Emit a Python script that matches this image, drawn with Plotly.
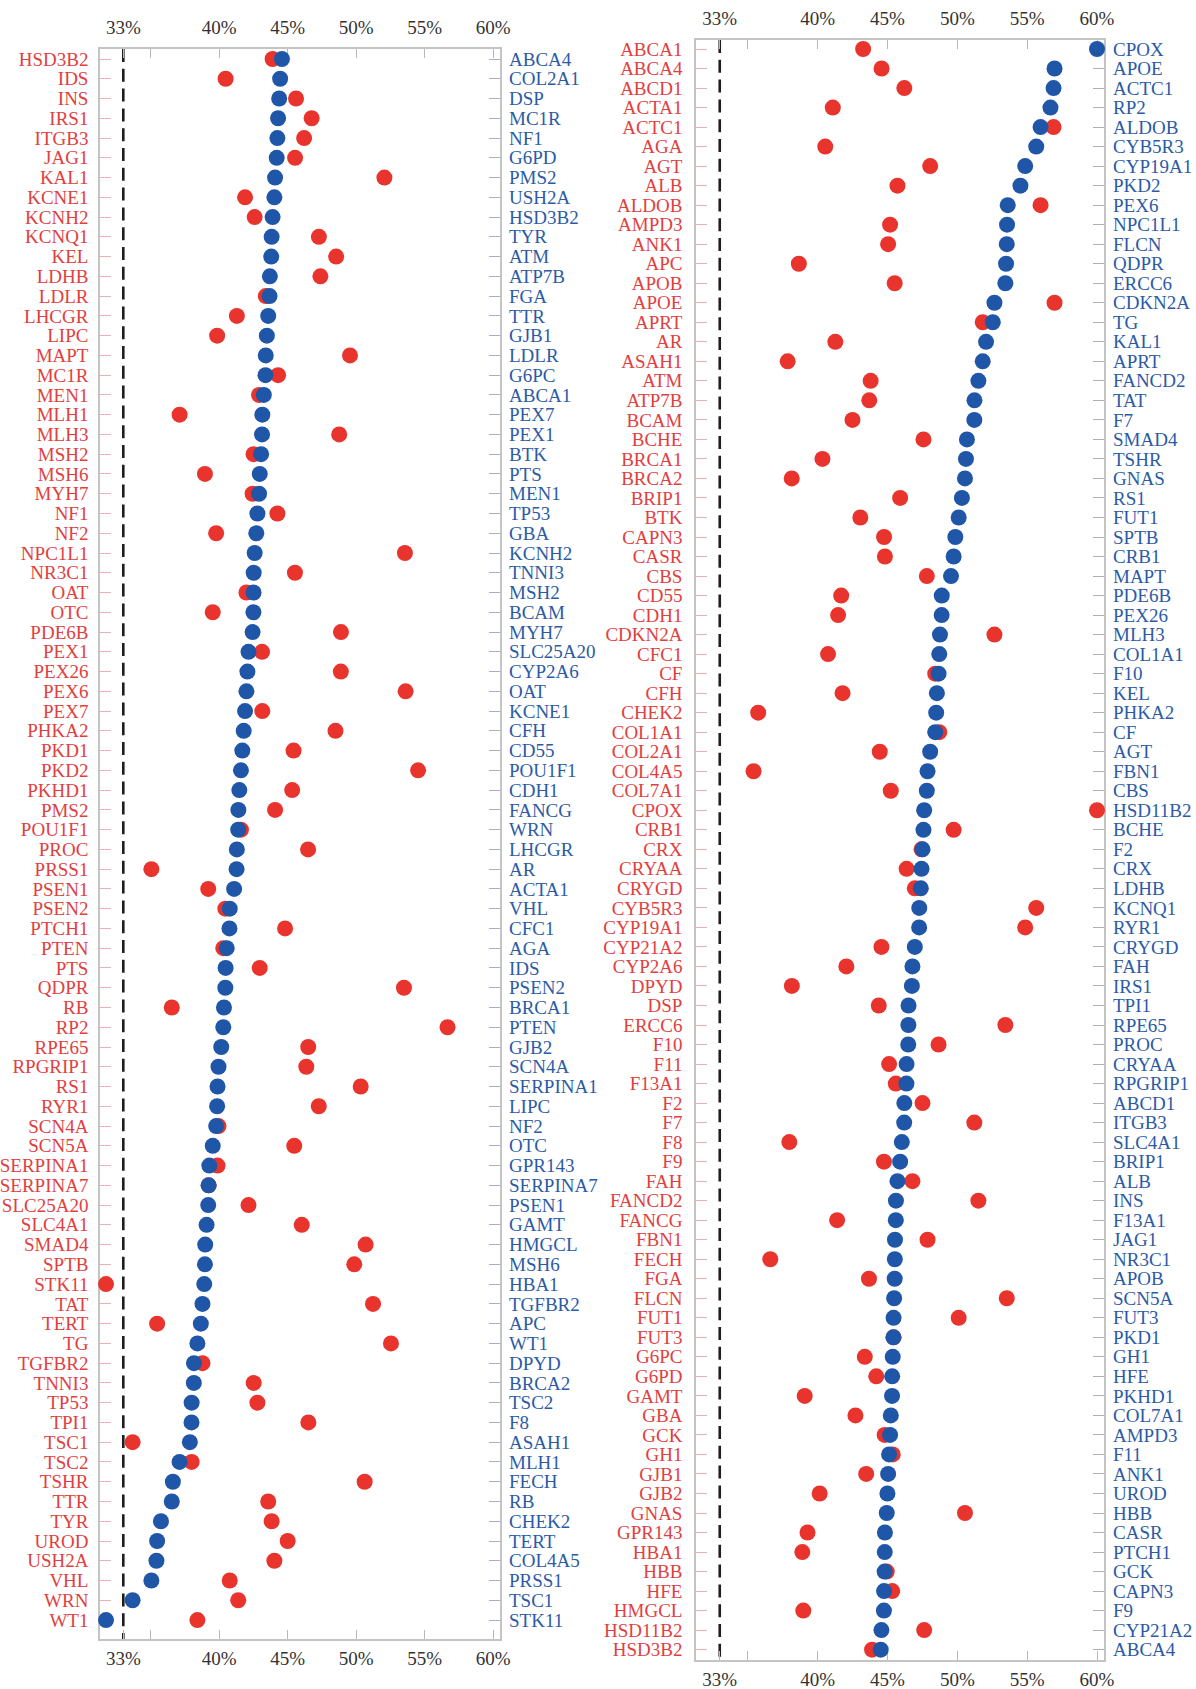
import plotly.graph_objects as go

# ---- data -----------------------------------------------------------------
# Genes ranked by score (blue, right-hand labels) for each panel
left_ranked_genes = [
    "ABCA4", "COL2A1", "DSP", "MC1R", "NF1", "G6PD", "PMS2", "USH2A", "HSD3B2", "TYR",
    "ATM", "ATP7B", "FGA", "TTR", "GJB1", "LDLR", "G6PC", "ABCA1", "PEX7", "PEX1",
    "BTK", "PTS", "MEN1", "TP53", "GBA", "KCNH2", "TNNI3", "MSH2", "BCAM", "MYH7",
    "SLC25A20", "CYP2A6", "OAT", "KCNE1", "CFH", "CD55", "POU1F1", "CDH1", "FANCG", "WRN",
    "LHCGR", "AR", "ACTA1", "VHL", "CFC1", "AGA", "IDS", "PSEN2", "BRCA1", "PTEN",
    "GJB2", "SCN4A", "SERPINA1", "LIPC", "NF2", "OTC", "GPR143", "SERPINA7", "PSEN1", "GAMT",
    "HMGCL", "MSH6", "HBA1", "TGFBR2", "APC", "WT1", "DPYD", "BRCA2", "TSC2", "F8",
    "ASAH1", "MLH1", "FECH", "RB", "CHEK2", "TERT", "COL4A5", "PRSS1", "TSC1", "STK11",
]
left_ranked_values = [
    44.58, 44.45, 44.38, 44.30, 44.25, 44.20, 44.08, 44.03, 43.90, 43.83,
    43.80, 43.70, 43.68, 43.58, 43.48, 43.40, 43.38, 43.26, 43.15, 43.13,
    43.06, 42.96, 42.91, 42.79, 42.71, 42.59, 42.52, 42.51, 42.50, 42.44,
    42.14, 42.06, 41.99, 41.89, 41.79, 41.69, 41.59, 41.47, 41.40, 41.39,
    41.29, 41.27, 41.09, 40.77, 40.75, 40.55, 40.47, 40.45, 40.35, 40.30,
    40.15, 39.95, 39.88, 39.85, 39.78, 39.53, 39.28, 39.23, 39.20, 39.08,
    38.98, 38.96, 38.91, 38.78, 38.66, 38.41, 38.16, 38.15, 37.99, 37.98,
    37.86, 37.11, 36.62, 36.54, 35.75, 35.47, 35.42, 35.05, 33.68, 31.74,
]

right_ranked_genes = [
    "CPOX", "APOE", "ACTC1", "RP2", "ALDOB", "CYB5R3", "CYP19A1", "PKD2", "PEX6", "NPC1L1",
    "FLCN", "QDPR", "ERCC6", "CDKN2A", "TG", "KAL1", "APRT", "FANCD2", "TAT", "F7",
    "SMAD4", "TSHR", "GNAS", "RS1", "FUT1", "SPTB", "CRB1", "MAPT", "PDE6B", "PEX26",
    "MLH3", "COL1A1", "F10", "KEL", "PHKA2", "CF", "AGT", "FBN1", "CBS", "HSD11B2",
    "BCHE", "F2", "CRX", "LDHB", "KCNQ1", "RYR1", "CRYGD", "FAH", "IRS1", "TPI1",
    "RPE65", "PROC", "CRYAA", "RPGRIP1", "ABCD1", "ITGB3", "SLC4A1", "BRIP1", "ALB", "INS",
    "F13A1", "JAG1", "NR3C1", "APOB", "SCN5A", "FUT3", "PKD1", "GH1", "HFE", "PKHD1",
    "COL7A1", "AMPD3", "F11", "ANK1", "UROD", "HBB", "CASR", "PTCH1", "GCK", "CAPN3",
    "F9", "CYP21A2", "ABCA4",
]
right_ranked_values = [
    60.00, 56.96, 56.89, 56.67, 55.96, 55.65, 54.86, 54.52, 53.61, 53.56,
    53.54, 53.49, 53.44, 52.66, 52.54, 52.06, 51.82, 51.51, 51.23, 51.22,
    50.69, 50.62, 50.55, 50.33, 50.10, 49.86, 49.74, 49.55, 48.89, 48.88,
    48.76, 48.71, 48.66, 48.54, 48.49, 48.42, 48.06, 47.87, 47.82, 47.63,
    47.58, 47.51, 47.44, 47.39, 47.28, 47.27, 46.96, 46.79, 46.75, 46.51,
    46.50, 46.49, 46.37, 46.36, 46.21, 46.20, 46.03, 45.91, 45.72, 45.61,
    45.60, 45.54, 45.53, 45.52, 45.48, 45.44, 45.43, 45.38, 45.34, 45.33,
    45.24, 45.19, 45.12, 45.05, 45.00, 44.95, 44.82, 44.81, 44.80, 44.76,
    44.75, 44.57, 44.52,
]

# Genes in alphabetical order (red, left-hand labels) for each panel
left_alpha_genes = [
    "HSD3B2", "IDS", "INS", "IRS1", "ITGB3", "JAG1", "KAL1", "KCNE1", "KCNH2", "KCNQ1",
    "KEL", "LDHB", "LDLR", "LHCGR", "LIPC", "MAPT", "MC1R", "MEN1", "MLH1", "MLH3",
    "MSH2", "MSH6", "MYH7", "NF1", "NF2", "NPC1L1", "NR3C1", "OAT", "OTC", "PDE6B",
    "PEX1", "PEX26", "PEX6", "PEX7", "PHKA2", "PKD1", "PKD2", "PKHD1", "PMS2", "POU1F1",
    "PROC", "PRSS1", "PSEN1", "PSEN2", "PTCH1", "PTEN", "PTS", "QDPR", "RB", "RP2",
    "RPE65", "RPGRIP1", "RS1", "RYR1", "SCN4A", "SCN5A", "SERPINA1", "SERPINA7", "SLC25A20", "SLC4A1",
    "SMAD4", "SPTB", "STK11", "TAT", "TERT", "TG", "TGFBR2", "TNNI3", "TP53", "TPI1",
    "TSC1", "TSC2", "TSHR", "TTR", "TYR", "UROD", "USH2A", "VHL", "WRN", "WT1",
]
right_alpha_genes = [
    "ABCA1", "ABCA4", "ABCD1", "ACTA1", "ACTC1", "AGA", "AGT", "ALB", "ALDOB", "AMPD3",
    "ANK1", "APC", "APOB", "APOE", "APRT", "AR", "ASAH1", "ATM", "ATP7B", "BCAM",
    "BCHE", "BRCA1", "BRCA2", "BRIP1", "BTK", "CAPN3", "CASR", "CBS", "CD55", "CDH1",
    "CDKN2A", "CFC1", "CF", "CFH", "CHEK2", "COL1A1", "COL2A1", "COL4A5", "COL7A1", "CPOX",
    "CRB1", "CRX", "CRYAA", "CRYGD", "CYB5R3", "CYP19A1", "CYP21A2", "CYP2A6", "DPYD", "DSP",
    "ERCC6", "F10", "F11", "F13A1", "F2", "F7", "F8", "F9", "FAH", "FANCD2",
    "FANCG", "FBN1", "FECH", "FGA", "FLCN", "FUT1", "FUT3", "G6PC", "G6PD", "GAMT",
    "GBA", "GCK", "GH1", "GJB1", "GJB2", "GNAS", "GPR143", "HBA1", "HBB", "HFE",
    "HMGCL", "HSD11B2", "HSD3B2",
]

x_tick_vals = [33, 35, 40, 45, 50, 55, 60]
x_tick_text = ["33%", "", "40%", "45%", "50%", "55%", "60%"]
threshold = 33

# ---- styling --------------------------------------------------------------
RED = "#e8342c"
RED_TEXT = "#e2403e"
BLUE = "#1f56a8"
BLUE_TEXT = "#2c5ba6"
FRAME = "#c4c4c4"
FONT = "Liberation Serif, Times New Roman, serif"
FS = 19
X_RANGE = [31.3, 60.5]
W, H = 1196, 1689

score = dict(zip(right_ranked_genes, right_ranked_values))
score.update(zip(left_ranked_genes, left_ranked_values))


def px_dom(a, b, total):
    return [a / total, b / total]


def py_dom(top, bottom):
    return [1 - bottom / H, 1 - top / H]


panels = [
    dict(alpha=left_alpha_genes, ranked=left_ranked_genes, vals=left_ranked_values,
         xdom=(100, 500), top=49, bottom=1639, first=59, pitch=19.76, lpad=6),
    dict(alpha=right_alpha_genes, ranked=right_ranked_genes, vals=right_ranked_values,
         xdom=(696, 1104), top=40, bottom=1660, first=49, pitch=19.52, lpad=8),
]

fig = go.Figure()
layout = dict(
    width=W, height=H,
    margin=dict(l=0, r=0, t=0, b=0),
    paper_bgcolor="white", plot_bgcolor="white",
    showlegend=False,
    font=dict(family=FONT, size=FS, color="#333333"),
    shapes=[],
)


def nm(s, i):
    return s if i == 1 else f"{s}{i}"


for k, p in enumerate(panels):
    n = len(p["alpha"])
    idx = list(range(n))
    yr = [(p["bottom"] - p["first"]) / p["pitch"], (p["top"] - p["first"]) / p["pitch"]]
    xb, xt = 2 * k + 1, 2 * k + 2      # bottom / top x axes
    yl, yrt = 2 * k + 1, 2 * k + 2     # left / right y axes

    # red: each alphabetical gene at its own score
    fig.add_trace(go.Scatter(
        x=[score[g] for g in p["alpha"]], y=idx, mode="markers",
        marker=dict(color=RED, size=16, line=dict(width=0)),
        cliponaxis=False,
        xaxis=nm("x", xb), yaxis=nm("y", yl), hoverinfo="text", text=p["alpha"],
    ))
    # blue: genes ranked by score
    fig.add_trace(go.Scatter(
        x=p["vals"], y=idx, mode="markers",
        marker=dict(color=BLUE, size=16, line=dict(width=0)),
        cliponaxis=False,
        xaxis=nm("x", xt), yaxis=nm("y", yrt), hoverinfo="text", text=p["ranked"],
    ))

    xdom = px_dom(*p["xdom"], W)
    ydom = py_dom(p["top"], p["bottom"])
    xcommon = dict(
        range=X_RANGE, domain=xdom, tickmode="array", tickvals=x_tick_vals,
        ticktext=x_tick_text, ticks="inside", ticklen=9, tickwidth=1.2,
        tickcolor="#b8b8b8", showgrid=False, zeroline=False,
        tickfont=dict(family=FONT, size=FS, color="#333333"),
        automargin=False, fixedrange=True, layer="below traces",
    )
    layout[nm("xaxis", xb)] = dict(
        **xcommon, anchor=nm("y", yl), side="bottom", ticklabelstandoff=1,
        showline=True, linecolor=FRAME, linewidth=1.5, mirror=True,
    )
    layout[nm("xaxis", xt)] = dict(
        **xcommon, anchor=nm("y", yl), side="top", overlaying=nm("x", xb),
        ticklabelstandoff=10, showline=False,
    )
    ycommon = dict(
        range=yr, domain=ydom, tickmode="array", tickvals=idx,
        ticks="inside", ticklen=11, tickwidth=1.2,
        showgrid=False, zeroline=False, automargin=False, fixedrange=True,
        layer="below traces",
    )
    layout[nm("yaxis", yl)] = dict(
        **ycommon, ticktext=p["alpha"], anchor=nm("x", xb), side="left",
        tickcolor="#eab0b4", ticklabelstandoff=p["lpad"],
        tickfont=dict(family=FONT, size=FS, color=RED_TEXT),
        showline=True, linecolor=FRAME, linewidth=1.5, mirror=True,
    )
    layout[nm("yaxis", yrt)] = dict(
        **ycommon, ticktext=p["ranked"], anchor=nm("x", xb), side="right",
        overlaying=nm("y", yl), tickcolor="#a9b2c4", ticklabelstandoff=8,
        tickfont=dict(family=FONT, size=FS, color=BLUE_TEXT),
        showline=False,
    )

    # dashed reference line at the 33% threshold
    layout["shapes"].append(dict(
        type="line", xref=nm("x", xb), yref=f"{nm('y', yl)} domain",
        x0=threshold, x1=threshold, y0=1, y1=0,
        line=dict(color="#1e1e1e", width=2.6, dash="13px,6.8px"),
        layer="below",
    ))

fig.update_layout(**layout)
fig.write_html("out.html")
